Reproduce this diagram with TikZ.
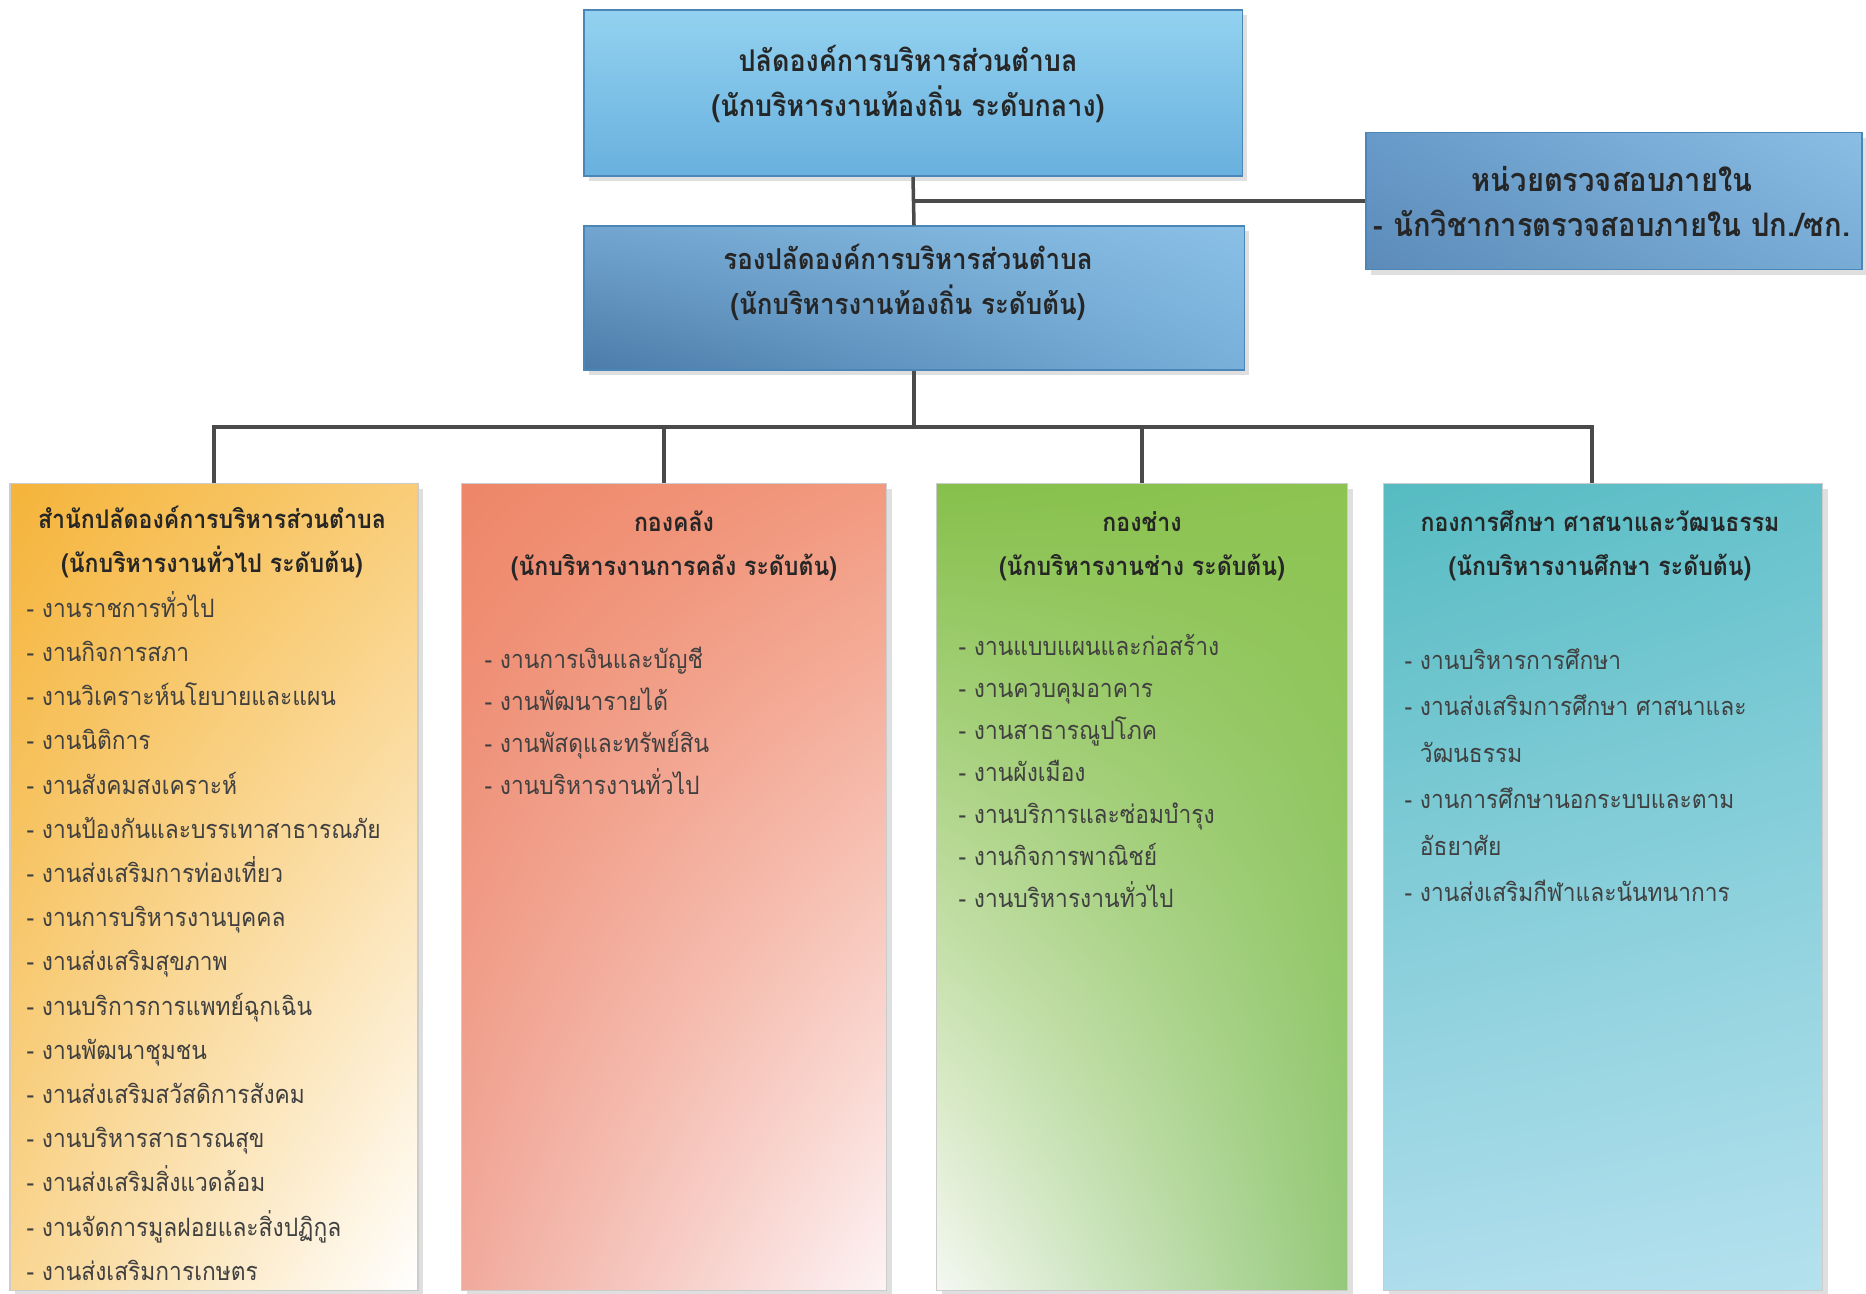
\documentclass[tikz,border=0pt]{standalone}
\usepackage{fontspec}
\newfontfamily\thaifont[Script=Thai, FakeStretch=0.9]{Loma}
\usetikzlibrary{shadows,shadings}

\definecolor{linegray}{HTML}{4A4A4A}
\definecolor{textdark}{HTML}{262626}
\definecolor{textgray}{HTML}{404040}
\definecolor{bluedark}{HTML}{4A86B8}
\definecolor{chieftop}{HTML}{93D2F0}
\definecolor{chiefbot}{HTML}{68B0DE}
\definecolor{auditul}{HTML}{689AC9}
\definecolor{auditur}{HTML}{8ABEE4}
\definecolor{auditll}{HTML}{5C8BB8}
\definecolor{auditlr}{HTML}{78ACD6}
\definecolor{deputyul}{HTML}{72A6D0}
\definecolor{deputyur}{HTML}{8AC0E6}
\definecolor{deputyll}{HTML}{4C7BA8}
\definecolor{deputylr}{HTML}{78B0DA}
\definecolor{officeul}{HTML}{F5B43A}
\definecolor{officeur}{HTML}{F9CD78}
\definecolor{officell}{HTML}{F9D692}
\definecolor{financeul}{HTML}{EE8668}
\definecolor{financeur}{HTML}{F29A80}
\definecolor{financell}{HTML}{F1AA9C}
\definecolor{financelr}{HTML}{FDF3F5}
\definecolor{worksul}{HTML}{86C04B}
\definecolor{worksur}{HTML}{8DC451}
\definecolor{worksll}{HTML}{F5F8F2}
\definecolor{workslr}{HTML}{95C97A}
\definecolor{eduul}{HTML}{56BBC2}
\definecolor{eduur}{HTML}{66C2CC}
\definecolor{edull}{HTML}{AEDDEC}
\definecolor{edulr}{HTML}{B5E1EE}

\begin{document}
\begin{tikzpicture}[x=0.01cm, y=-0.01cm,
    box/.style={rectangle, inner sep=0pt, draw=black!20, line width=0.4pt,
      drop shadow={shadow xshift=1.5pt, shadow yshift=-1.5pt, opacity=0.25}},
    link/.style={draw=linegray, line width=1pt},
    bighead/.style={font=\thaifont\bfseries\fontsize{8.5}{12.8}\selectfont, align=center, text=textdark},
    head/.style={font=\thaifont\bfseries\fontsize{7.3}{12.5}\selectfont, align=center, text=textdark},
    duty/.style={font=\thaifont\fontsize{7.2}{12.5}\selectfont, anchor=base west, inner sep=0pt, text=textgray}
  ]
  \useasboundingbox (0,0) rectangle (1866,1293);

  % top level
  \node[box, draw=bluedark, top color=chieftop, bottom color=chiefbot,
    minimum width=6.58cm, minimum height=1.66cm] (chief) at (913,93) {};
  \node[bighead] (chief-t) at (908,84) {ปลัดองค์การบริหารส่วนตำบล\\(นักบริหารงานท้องถิ่น ระดับกลาง)};

  \node[box, draw=bluedark, upper left=auditul, upper right=auditur, lower left=auditll, lower right=auditlr,
    minimum width=4.96cm, minimum height=1.37cm] (audit) at (1614,201) {};
  \node[bighead, font=\thaifont\bfseries\fontsize{9.2}{12.8}\selectfont] (audit-t) at (1612,202)
    {หน่วยตรวจสอบภายใน\\- นักวิชาการตรวจสอบภายใน ปก./ซก.};

  \node[box, draw=bluedark, upper left=deputyul, upper right=deputyur, lower left=deputyll, lower right=deputylr,
    minimum width=6.60cm, minimum height=1.44cm] (deputy) at (914,298) {};
  \node[bighead, font=\thaifont\bfseries\fontsize{8.2}{12.8}\selectfont] (deputy-t) at (908,282)
    {รองปลัดองค์การบริหารส่วนตำบล\\(นักบริหารงานท้องถิ่น ระดับต้น)};

  % divisions
  \node[box, upper left=officeul, upper right=officeur, lower left=officell, lower right=white,
    minimum width=4.08cm, minimum height=8.07cm] (office) at (214,887) {};
  \node[box, upper left=financeul, upper right=financeur, lower left=financell, lower right=financelr,
    minimum width=4.25cm, minimum height=8.07cm] (finance) at (674,887) {};
  \node[box, upper left=worksul, upper right=worksur, lower left=worksll, lower right=workslr,
    minimum width=4.11cm, minimum height=8.07cm] (works) at (1142,887) {};
  \node[box, upper left=eduul, upper right=eduur, lower left=edull, lower right=edulr,
    minimum width=4.39cm, minimum height=8.07cm] (edu) at (1603,887) {};

  % connectors
  \coordinate (bus) at (914,427);
  \draw[link] (chief.south) -- (deputy.north);
  \draw[link] (chief.south |- audit.west) -- (audit.west);
  \draw[link] (deputy.south) -- (bus);
  \draw[link] (office.north) -- (office.north |- bus) -- ([xshift=-0.11cm]edu.north |- bus) -- ([xshift=-0.11cm]edu.north);
  \draw[link] ([xshift=-0.1cm]finance.north) -- ([xshift=-0.1cm]finance.north |- bus);
  \draw[link] (works.north) -- (works.north |- bus);

  % division titles
  \node[head] (office-t) at (212,542) {สำนักปลัดองค์การบริหารส่วนตำบล\\(นักบริหารงานทั่วไป ระดับต้น)};
  \node[head] (finance-t) at (674,546) {กองคลัง\\(นักบริหารงานการคลัง ระดับต้น)};
  \node[head] (works-t) at (1142,546) {กองช่าง\\(นักบริหารงานช่าง ระดับต้น)};
  \node[head] (edu-t) at (1600,546) {กองการศึกษา ศาสนาและวัฒนธรรม\\(นักบริหารงานศึกษา ระดับต้น)};

  % duties
  \foreach \t [count=\i] in {- งานราชการทั่วไป, - งานกิจการสภา, - งานวิเคราะห์นโยบายและแผน, - งานนิติการ,
      - งานสังคมสงเคราะห์, - งานป้องกันและบรรเทาสาธารณภัย, - งานส่งเสริมการท่องเที่ยว, - งานการบริหารงานบุคคล,
      - งานส่งเสริมสุขภาพ, - งานบริการการแพทย์ฉุกเฉิน, - งานพัฒนาชุมชน, - งานส่งเสริมสวัสดิการสังคม,
      - งานบริหารสาธารณสุข, - งานส่งเสริมสิ่งแวดล้อม, - งานจัดการมูลฝอยและสิ่งปฏิกูล, - งานส่งเสริมการเกษตร}
    \node[duty] (office-\i) at (26,573+44.2*\i) {\t};
  \foreach \t [count=\i] in {- งานการเงินและบัญชี, - งานพัฒนารายได้, - งานพัสดุและทรัพย์สิน, - งานบริหารงานทั่วไป}
    \node[duty] (finance-\i) at (484,626+42*\i) {\t};
  \foreach \t [count=\i] in {- งานแบบแผนและก่อสร้าง, - งานควบคุมอาคาร, - งานสาธารณูปโภค, - งานผังเมือง,
      - งานบริการและซ่อมบำรุง, - งานกิจการพาณิชย์, - งานบริหารงานทั่วไป}
    \node[duty] (works-\i) at (958,613+42*\i) {\t};
  \foreach \t [count=\i] in {- งานบริหารการศึกษา, - งานส่งเสริมการศึกษา ศาสนาและ, \hphantom{- }วัฒนธรรม,
      - งานการศึกษานอกระบบและตาม, \hphantom{- }อัธยาศัย, - งานส่งเสริมกีฬาและนันทนาการ}
    \node[duty] (edu-\i) at (1404,623+46.4*\i) {\t};
\end{tikzpicture}
\end{document}
